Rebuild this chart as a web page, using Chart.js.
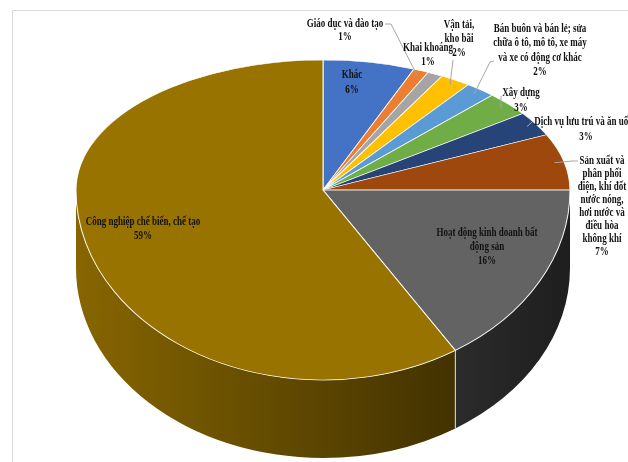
<!DOCTYPE html>
<html>
<head>
<meta charset="utf-8">
<script src="https://cdn.jsdelivr.net/npm/chart.js@4.4.0/dist/chart.umd.min.js"></script>
<style>
  html, body { margin: 0; padding: 0; background: #fff; }
  canvas { display: block; }
</style>
</head>
<body>
<canvas id="chartNganh" width="628" height="462"></canvas>
<script>
const categories = [
  'Khác',
  'Giáo dục và đào tạo',
  'Khai khoáng',
  'Vận tải, kho bãi',
  'Bán buôn và bán lẻ; sửa chữa ô tô, mô tô, xe máy và xe có động cơ khác',
  'Xây dựng',
  'Dịch vụ lưu trú và ăn uống',
  'Sản xuất và phân phối điện, khí đốt, nước nóng, hơi nước và điều hòa không khí',
  'Hoạt động kinh doanh bất động sản',
  'Công nghiệp chế biến, chế tạo'
];
const values = [6, 1, 1, 2, 2, 3, 3, 7, 16, 59];
const sliceColors = ['#4472C4', '#ED7D31', '#A5A5A5', '#FFC000', '#5B9BD5',
                     '#70AD47', '#264478', '#9E480E', '#636363', '#997300'];

// how the category names are wrapped on the picture
const labelLines = [
  ['Khác'],
  ['Giáo dục và đào tạo'],
  ['Khai khoáng'],
  ['Vận tải,', 'kho bãi'],
  ['Bán buôn và bán lẻ; sửa', 'chữa ô tô, mô tô, xe máy', 'và xe có động cơ khác'],
  ['Xây dựng'],
  ['Dịch vụ lưu trú và ăn uống'],
  ['Sản xuất và', 'phân phối', 'điện, khí đốt', 'nước nóng,', 'hơi nước và', 'điều hòa', 'không khí'],
  ['Hoạt động kinh doanh bất', 'động sản'],
  ['Công nghiệp chế biến, chế tạo']
];

// 3d look: top face is two half ellipses (back smaller = perspective), plus a wall
const PIE = { cx: 323, cy: 190, rx: 247, ryBack: 130, ryFront: 190, depth: 78 };

// label placement (centre of first line), line height, leader points near the text
const labelLayout = [
  { x: 352, y: 75, lh: 15 },
  { x: 345, y: 24, lh: 13, leader: [[385, 24], [391, 24]] },
  { x: 428, y: 48, lh: 14 },
  { x: 459, y: 25, lh: 14, leader: [[453, 60]] },
  { x: 540, y: 29, lh: 14.3, leader: [[494, 61], [490, 62]] },
  { x: 521, y: 93, lh: 15, leader: [[501, 96]] },
  { x: 586, y: 122, lh: 15, leader: [[532, 122]] },
  { x: 602, y: 161, lh: 13, leader: [[578, 161], [572, 161]] },
  { x: 487, y: 233, lh: 14 },
  { x: 143, y: 222, lh: 13.5 }
];

function hexRgb(h) {
  return [parseInt(h.slice(1, 3), 16), parseInt(h.slice(3, 5), 16), parseInt(h.slice(5, 7), 16)];
}
function shade(hex, f) {
  const c = hexRgb(hex).map(v => Math.round(v * f));
  return `rgb(${c[0]},${c[1]},${c[2]})`;
}

function edgePoint(angle, k) {
  const ry = Math.sin(angle) < 0 ? PIE.ryBack : PIE.ryFront;
  return [PIE.cx + PIE.rx * k * Math.cos(angle), PIE.cy + ry * k * Math.sin(angle)];
}

const framePlugin = {
  id: 'frame',
  beforeDraw(chart) {
    const ctx = chart.ctx;
    ctx.save();
    ctx.strokeStyle = '#d9d9d9';
    ctx.lineWidth = 1;
    ctx.beginPath();
    ctx.moveTo(12.5, chart.height);
    ctx.lineTo(12.5, 10.5);
    ctx.lineTo(chart.width, 10.5);
    ctx.stroke();
    ctx.restore();
  }
};

const pie3d = {
  id: 'pie3d',
  beforeDatasetsDraw(chart) {
    const ctx = chart.ctx;
    const arcs = chart.getDatasetMeta(0).data;
    const { x, y, outerRadius: R } = arcs[0];
    const { cx, cy, rx, ryFront, depth } = PIE;

    // side wall of the front half
    const seams = [];
    arcs.forEach((a, i) => {
      [0, 2 * Math.PI].forEach(k => {
        const lo = Math.max(a.startAngle, k), hi = Math.min(a.endAngle, k + Math.PI);
        if (lo >= hi) return;
        const g = ctx.createLinearGradient(cx - rx, 0, cx + rx, 0);
        for (let t = 0; t <= 1.001; t += 0.25) g.addColorStop(t, shade(sliceColors[i], 0.88 - 0.58 * t));
        ctx.beginPath();
        ctx.ellipse(cx, cy, rx, ryFront, 0, lo, hi, false);
        ctx.ellipse(cx, cy + depth, rx, ryFront, 0, hi, lo, true);
        ctx.closePath();
        ctx.fillStyle = g;
        ctx.fill();
        if (lo > k + 0.001) seams.push(lo);
      });
    });
    ctx.save();
    ctx.strokeStyle = 'rgba(235,235,225,0.9)';
    ctx.lineWidth = 1;
    seams.forEach(a => {
      const px = cx + rx * Math.cos(a), py = cy + ryFront * Math.sin(a);
      ctx.beginPath();
      ctx.moveTo(px, py);
      ctx.lineTo(px, py + depth);
      ctx.stroke();
    });
    ctx.restore();

    // top face: back half and front half with different vertical scale
    [[PIE.ryBack, 0, cy + 0.5], [PIE.ryFront, cy - 0.5, chart.height]].forEach(([ry, y0, y1]) => {
      ctx.save();
      ctx.beginPath();
      ctx.rect(0, y0, chart.width, y1 - y0);
      ctx.clip();
      ctx.translate(cx, cy);
      ctx.scale(rx / R, ry / R);
      ctx.translate(-x, -y);
      arcs.forEach(a => a.draw(ctx));
      ctx.restore();
    });
    return false;
  }
};

const labelPlugin = {
  id: 'sliceLabels',
  afterDraw(chart) {
    const ctx = chart.ctx;
    const arcs = chart.getDatasetMeta(0).data;
    ctx.save();
    // leader lines
    ctx.strokeStyle = '#a6a6a6';
    ctx.lineWidth = 1;
    labelLayout.forEach((L, i) => {
      if (!L.leader) return;
      const a = arcs[i];
      const mid = (a.startAngle + a.endAngle) / 2;
      const end = edgePoint(mid, 0.96);
      ctx.beginPath();
      ctx.moveTo(L.leader[0][0], L.leader[0][1]);
      L.leader.slice(1).forEach(p => ctx.lineTo(p[0], p[1]));
      ctx.lineTo(end[0], end[1]);
      ctx.stroke();
    });
    // texts
    ctx.fillStyle = '#111';
    ctx.font = 'bold 12px "Liberation Serif", "Times New Roman", serif';
    ctx.textAlign = 'center';
    ctx.textBaseline = 'middle';
    labelLayout.forEach((L, i) => {
      const lines = labelLines[i].concat([values[i] + '%']);
      lines.forEach((txt, j) => {
        ctx.save();
        ctx.translate(L.x, L.y + j * L.lh);
        ctx.scale(0.75, 1);
        ctx.fillText(txt, 0, 0);
        ctx.restore();
      });
    });
    ctx.restore();
  }
};

new Chart(document.getElementById('chartNganh').getContext('2d'), {
  type: 'pie',
  data: {
    labels: categories,
    datasets: [{
      data: values,
      backgroundColor: sliceColors,
      borderColor: 'rgba(255,255,255,0.9)',
      borderWidth: 1
    }]
  },
  options: {
    responsive: false,
    animation: false,
    events: [],
    layout: { padding: 0 },
    plugins: {
      legend: { display: false },
      tooltip: { enabled: false }
    }
  },
  plugins: [framePlugin, pie3d, labelPlugin]
});
</script>
</body>
</html>
